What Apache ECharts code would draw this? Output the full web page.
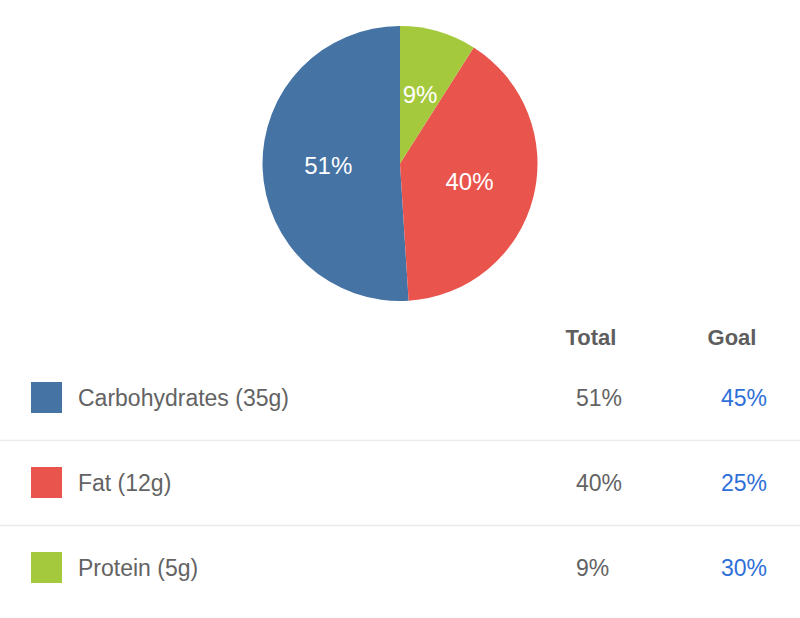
<!DOCTYPE html>
<html>
<head>
    <meta charset="utf-8">
    <title>Macros</title>
    <script src="https://cdn.jsdelivr.net/npm/echarts@6/dist/echarts.min.js"></script>
</head>
<body style="margin:0;background-color:#fff;">
    <div id="main" style="width:800px;height:618px;"></div>
    <script type="text/javascript">
        // 数据
        var categories = ['Carbohydrates', 'Fat', 'Protein'];
        var grams = [35, 12, 5];
        var totalPct = [51, 40, 9];
        var goalPct = [45, 25, 30];
        var headers = ['Total', 'Goal'];

        var palette = ['#4573a4', '#e9544d', '#a5c93d'];
        var fontFamily = '"Liberation Sans", Arial, sans-serif';

        var myChart = echarts.init(document.getElementById('main'), null, { renderer: 'svg' });

        var names = categories.map(function (c, i) { return c + ' (' + grams[i] + 'g)'; });

        var pieData = names.map(function (n, i) {
            return { name: n, value: totalPct[i], itemStyle: { color: palette[i] } };
        });

        // 表格部分
        var rowY = [398, 483, 568];
        var graphics = [];
        graphics.push({
            type: 'text', x: 591, y: 337,
            style: { text: headers[0], fill: '#5e5e5e', font: 'bold 22px ' + fontFamily, textAlign: 'center', textVerticalAlign: 'middle' }
        });
        graphics.push({
            type: 'text', x: 732, y: 337,
            style: { text: headers[1], fill: '#5e5e5e', font: 'bold 22px ' + fontFamily, textAlign: 'center', textVerticalAlign: 'middle' }
        });
        for (var i = 0; i < categories.length; i++) {
            graphics.push({
                type: 'text', x: 576, y: rowY[i],
                style: { text: totalPct[i] + '%', fill: '#636363', font: '23px ' + fontFamily, textAlign: 'left', textVerticalAlign: 'middle' }
            });
            graphics.push({
                type: 'text', x: 767, y: rowY[i],
                style: { text: goalPct[i] + '%', fill: '#2f6fd8', font: '23px ' + fontFamily, textAlign: 'right', textVerticalAlign: 'middle' }
            });
            if (i < categories.length - 1) {
                graphics.push({
                    type: 'line',
                    shape: { x1: 0, y1: (rowY[i] + rowY[i + 1]) / 2, x2: 800, y2: (rowY[i] + rowY[i + 1]) / 2 },
                    style: { stroke: '#ececec', lineWidth: 1.5 }
                });
            }
        }

        var option = {
            animation: false,
            legend: {
                orient: 'vertical',
                left: 31,
                top: 382,
                padding: 0,
                itemWidth: 31,
                itemHeight: 31,
                itemGap: 54,
                icon: 'rect',
                selectedMode: false,
                data: names,
                textStyle: {
                    fontSize: 23,
                    fontFamily: fontFamily,
                    color: '#636363',
                    padding: [0, 0, 0, 11]
                }
            },
            graphic: graphics,
            series: [
                {
                    type: 'pie',
                    center: [400, 163.5],
                    radius: 137.5,
                    startAngle: 90,
                    clockwise: false,
                    silent: true,
                    label: {
                        show: true,
                        position: 'inside',
                        formatter: '{c}%',
                        color: '#fff',
                        fontSize: 24,
                        fontFamily: fontFamily
                    },
                    labelLine: { show: false },
                    itemStyle: { borderWidth: 0 },
                    data: pieData
                }
            ]
        };
        myChart.setOption(option);
    </script>
</body>
</html>
